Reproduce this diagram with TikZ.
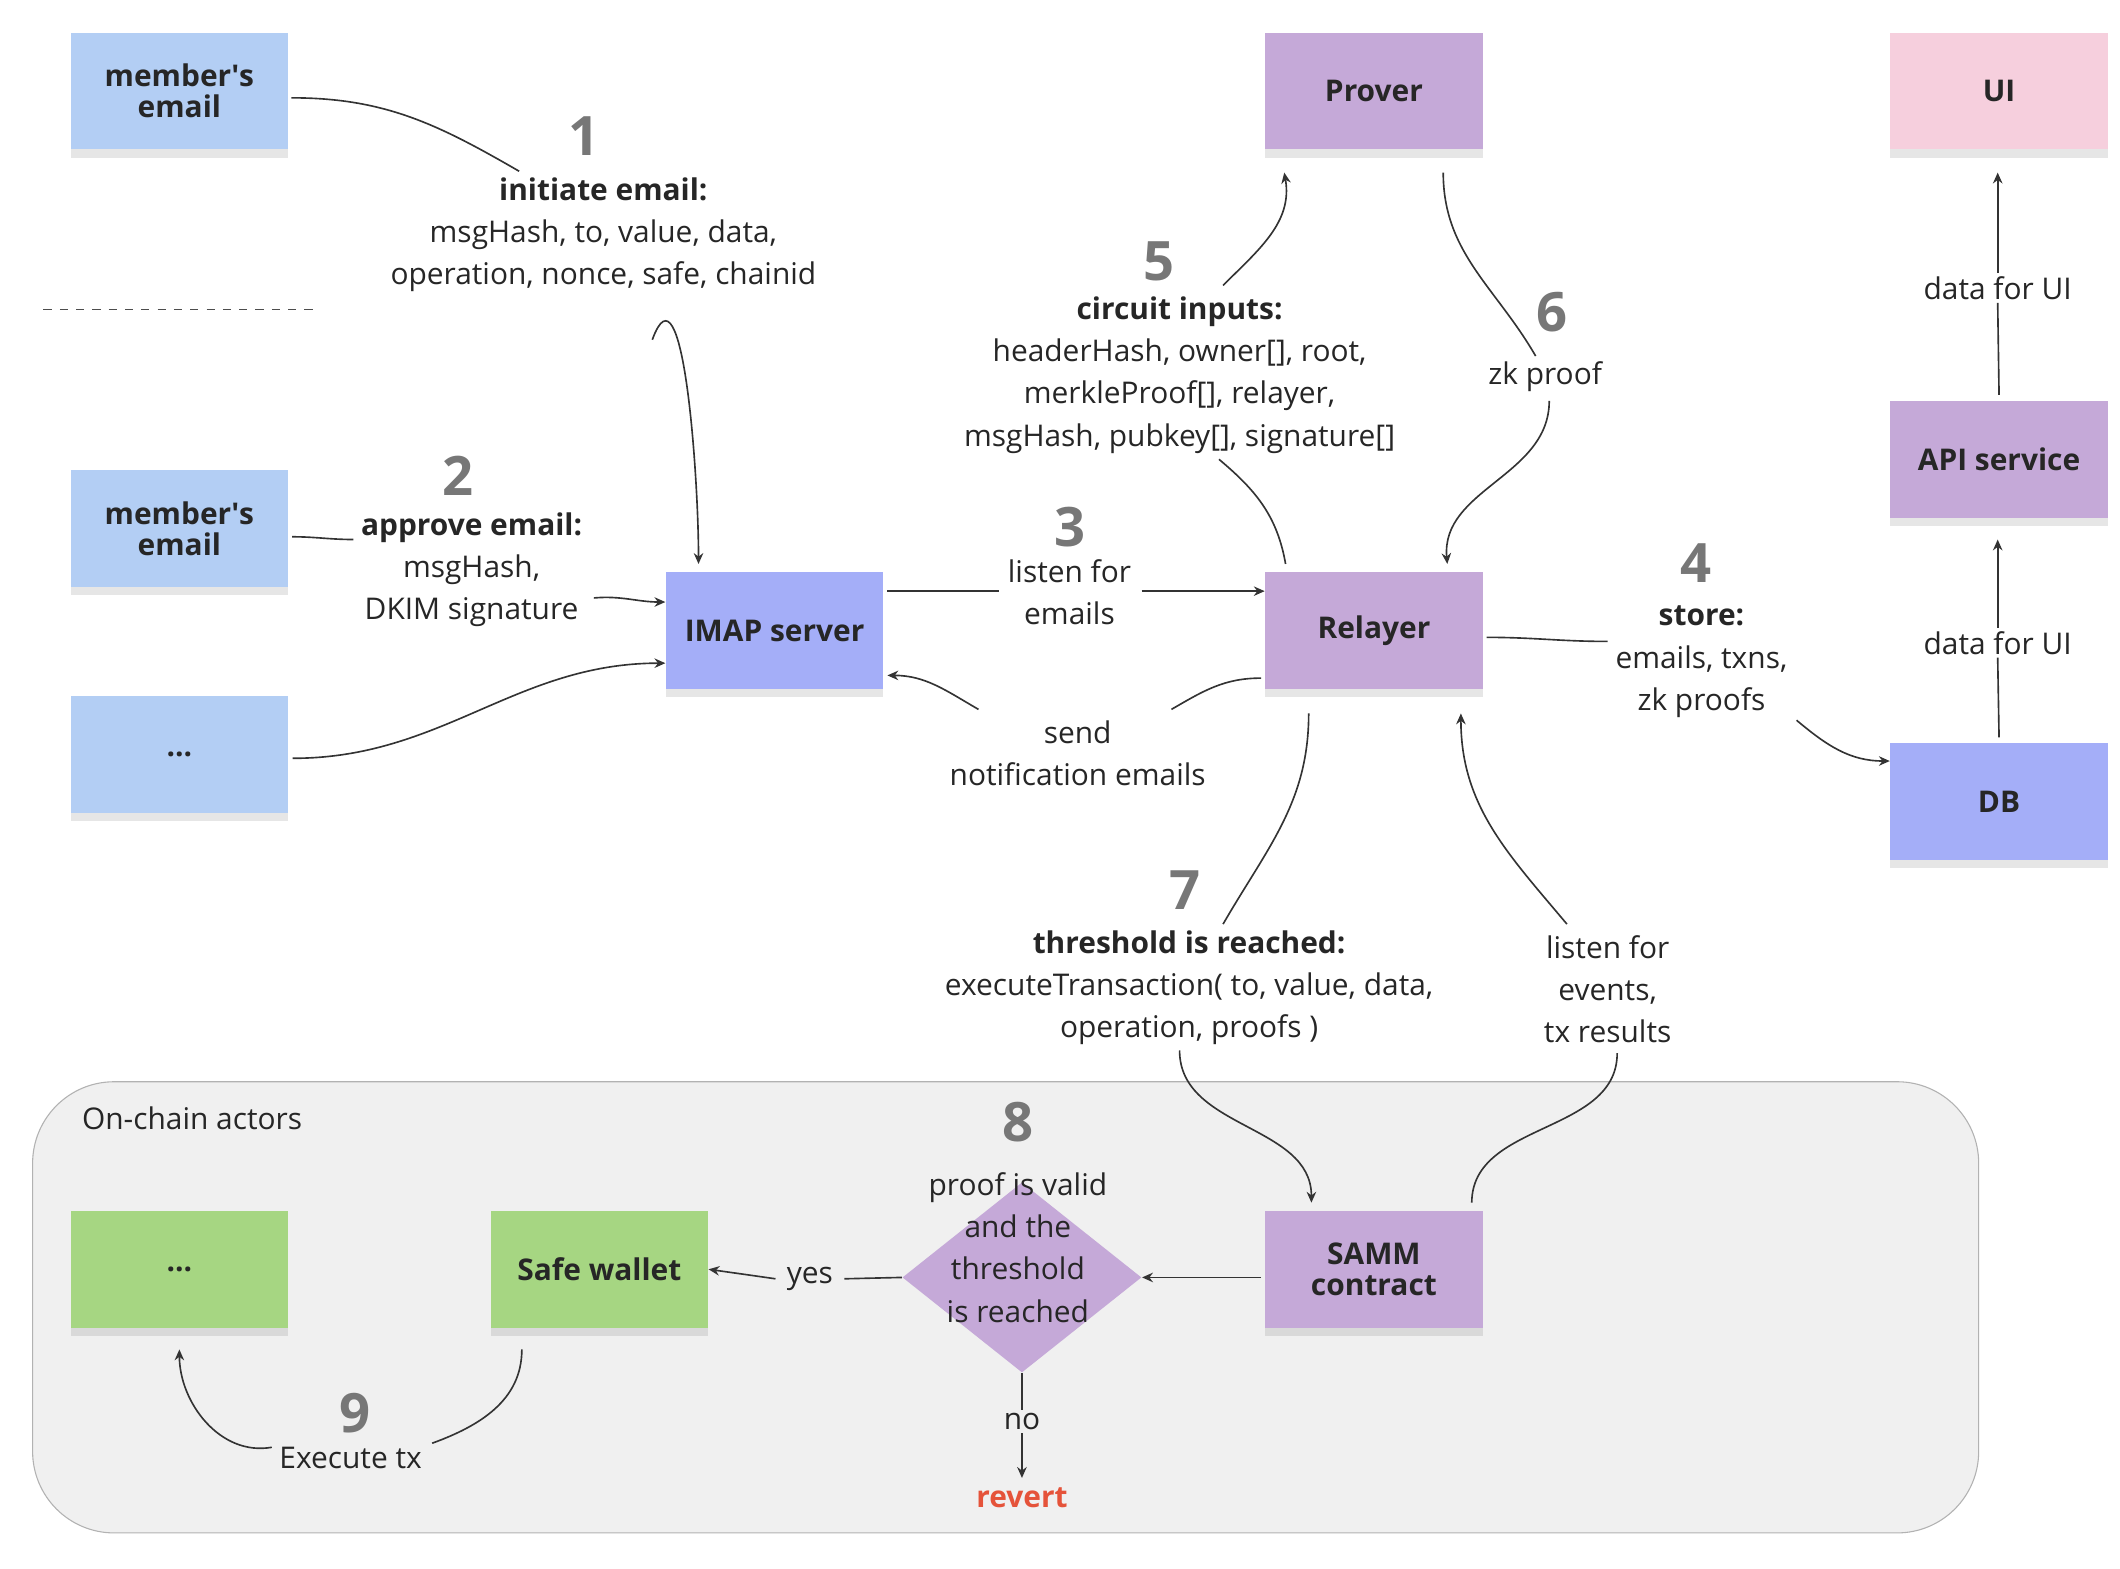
\documentclass[tikz,border=0pt]{standalone}
\usepackage{fontspec}
\setmainfont{Open Sans}
\usetikzlibrary{shapes.geometric,shadows,arrows.meta}
\definecolor{cblue}{HTML}{B3CEF4}
\definecolor{cimap}{HTML}{A4AEF8}
\definecolor{cpurp}{HTML}{C5A9D8}
\definecolor{cpink}{HTML}{F6CFDD}
\definecolor{cgreen}{HTML}{A6D682}
\definecolor{cnum}{HTML}{777777}
\definecolor{cred}{HTML}{E5533A}
\begin{document}
\begin{tikzpicture}[x=0.5pt,y=-0.5pt,
  note/.style={minimum width=80pt,minimum height=43pt,inner sep=0,align=center,font=\bfseries\fontsize{11}{11.5}\selectfont,text=black!85,drop shadow={shadow xshift=0pt,shadow yshift=-3pt,opacity=0.2}},
  num/.style={font=\bfseries\fontsize{20}{20}\selectfont,text=cnum},
  lab/.style={align=center,font=\fontsize{11}{15.5}\selectfont,text=black!85,inner sep=1pt},
  con/.style={draw=black!80,line width=0.6pt},
  arr/.style={con,-{Stealth[length=4pt,width=3.5pt]}}]
\useasboundingbox (0,0) rectangle (1560,1154);
% on-chain box
\draw[fill=black!6,draw=black!30,rounded corners=30pt] (24,796) rectangle (1456,1128);
\node[lab,anchor=west] at (58,823) {On-chain actors};
% notes
\node[note,fill=cblue] (m1) at (132,67) {member\textquotesingle s\\email};
\node[note,fill=cblue] (m2) at (132,389) {member\textquotesingle s\\email};
\node[note,fill=cblue] (m3) at (132,555) {...};
\node[note,fill=cimap] (imap) at (570,464) {IMAP server};
\node[note,fill=cpurp] (prover) at (1011,67) {Prover};
\node[note,fill=cpurp] (relayer) at (1011,464) {Relayer};
\node[note,fill=cpink] (ui) at (1471,67) {UI};
\node[note,fill=cpurp] (api) at (1471,338) {API service};
\node[note,fill=cimap] (db) at (1471,590) {DB};
\node[note,fill=cpurp] (samm) at (1011,934) {SAMM\\contract};
\node[note,fill=cgreen] (safe) at (441,934) {Safe wallet};
\node[note,fill=cgreen] (g3) at (132,934) {...};
\node[diamond,fill=cpurp,minimum width=88pt,minimum height=70pt,inner sep=0] (dia) at (752,940) {};
\node[lab] at (749,918) {proof is valid\\and the\\threshold\\is reached};
\draw[dashed,black!70] (32,228) -- (235,228);
% 1
\node[num] at (430,100) {1};
\node[lab] (t1) at (444,173) {\textbf{initiate email:}\\msgHash, to, value, data,\\operation, nonce, safe, chainid};
\draw[con] (m1.east) ++(2,5) to[out=0,in=150] (382,126);
\draw[arr] (480,250) to[out=70,in=90] (514,415);
% 2
\node[num] at (337,350) {2};
\node[lab] (t2) at (347,419) {\textbf{approve email:}\\msgHash,\\DKIM signature};
\draw[con] (215,395) to[out=0,in=180] (260,397);
\draw[arr] (437,440) to[out=5,in=180] (imap.west |- 0,443);
\draw[arr] (m3.east) ++(3,3) to[out=0,in=180] (imap.west |- 0,488);
% 3
\node[num] at (787,388) {3};
\node[lab] (t3) at (787,436) {listen for\\emails};
\draw[con] (653,435) -- (735,435);
\draw[arr] (840,435) -- (relayer.west |- 0,435);
\node[lab] (tn) at (793,554) {send\\notification emails};
\draw[arr] (720,522) to[out=150,in=0] (653,497);
\draw[con] (928,499) to[out=180,in=30] (862,522);
% 5
\node[num] at (853,192) {5};
\node[lab] (t5) at (868,276) {\textbf{circuit inputs:}\\headerHash, owner[], root,\\merkleProof[], relayer,\\msgHash, pubkey[], signature[]};
\draw[arr] (900,210) to[out=45,in=-80] (945,127);
\draw[con] (946,415) to[out=100,in=-40] (897,338);
% 6
\node[num] at (1142,230) {6};
\node[lab] (t6) at (1137,277) {zk proof};
\draw[con] (1062,127) to[out=-90,in=120] (1130,262);
\draw[arr] (1140,295) to[out=-90,in=95] (1065,415);
% 4
\node[num] at (1248,414) {4};
\node[lab] (t4) at (1252,487) {\textbf{store:}\\emails, txns,\\zk proofs};
\draw[con] (1094,469) to[out=0,in=180] (1183,472);
\draw[arr] (1322,530) to[out=-40,in=180] (db.west |- 0,560);
% UI
\node[lab,fill=white] (tu1) at (1470,212) {data for UI};
\draw[con] (api.north) ++(0,-4) -- (tu1.south);
\draw[arr] (tu1.north) -- (1470,127);
\node[lab,fill=white] (tu2) at (1470,473) {data for UI};
\draw[con] (db.north) ++(0,-4) -- (tu2.south);
\draw[arr] (tu2.north) -- (1470,397);
% 7
\node[num] at (872,655) {7};
\node[lab] (t7) at (875,727) {\textbf{threshold is reached:}\\executeTransaction( to, value, data,\\operation, proofs )};
\draw[con] (963,525) to[out=-90,in=60] (900,680);
\draw[arr] (868,773) to[out=-90,in=90] (965,885);
\node[lab] (tl) at (1183,728) {listen for\\events,\\tx results};
\draw[con] (1083,885) to[out=90,in=-90] (1190,775);
\draw[arr] (1153,680) to[out=130,in=-90] (1075,525);
% 8
\node[num] at (749,826) {8};
\draw[arr] (928,940) -- (dia.east);
\node[lab] (ty) at (596,941) {yes};
\draw[con] (dia.west) -- ([xshift=3pt]ty.east);
\draw[arr] ([xshift=-3pt]ty.west) -- (safe.east);
\node[lab] (tno) at (752,1046) {no};
\draw[con] (dia.south) -- (tno.north);
\node[font=\bfseries\fontsize{11}{11}\selectfont,text=cred] (rev) at (752,1102) {revert};
\draw[arr] (tno.south) -- (rev.north);
% 9
\node[num] at (261,1040) {9};
\node[lab] (t9) at (258,1073) {Execute tx};
\draw[con] (384,993) to[out=-90,in=20] (318,1062);
\draw[arr] (200,1065) to[out=190,in=-90] (132,993);
\end{tikzpicture}
\end{document}
